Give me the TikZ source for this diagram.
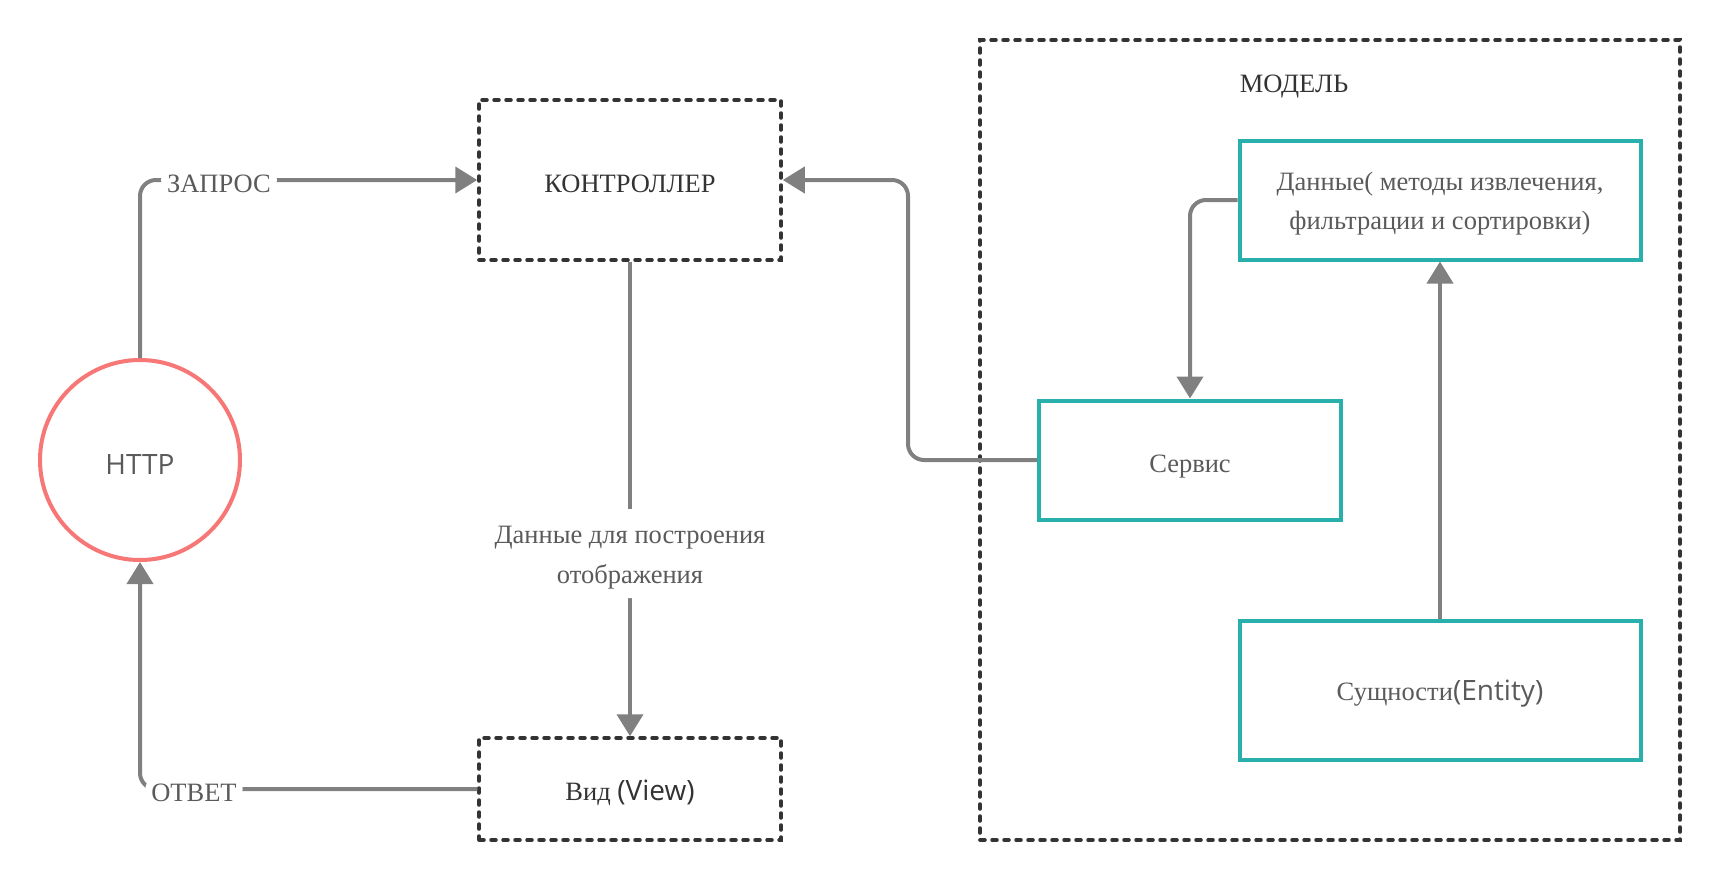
\documentclass[tikz,border=0pt]{standalone}
\usepackage{fontspec}
\setmainfont{Liberation Serif}
\newfontfamily\sansf{Open Sans}
\usetikzlibrary{arrows.meta}
\definecolor{lineg}{HTML}{808080}
\definecolor{dashc}{HTML}{333333}
\definecolor{tealc}{HTML}{2AB0AC}
\definecolor{redc}{HTML}{F77676}
\definecolor{txt}{HTML}{5A5A5A}
\definecolor{darktxt}{HTML}{333333}
\newcommand\dn[2][4pt]{\raisebox{-#1}[\height][\depth]{#2}}
\begin{document}
\begin{tikzpicture}[x=1pt,y=-1pt,
  conn/.style={draw=lineg, line width=4pt, rounded corners=16pt},
  arr/.style={-{Triangle[length=22pt,width=26pt]}},
  dbox/.style={draw=dashc, line width=3.5pt, dash pattern=on 5pt off 7pt, line cap=round,
    minimum width=302pt, text=darktxt, font=\fontsize{26.5pt}{39pt}\selectfont},
  tbox/.style={draw=tealc, line width=4pt, text=txt, align=center,
    font=\fontsize{26.5pt}{39pt}\selectfont},
  lbl/.style={fill=white, text=txt, inner sep=6pt, align=center,
    font=\fontsize{26.5pt}{40pt}\selectfont}
]
\useasboundingbox (0,0) rectangle (1720,881);

% model container
\node[draw=dashc, line width=3.5pt, dash pattern=on 5pt off 7pt, line cap=round,
  minimum width=700pt, minimum height=800pt] (model) at (1330,440) {};
\node[text=darktxt, font=\fontsize{26.5pt}{30pt}\selectfont] (modellbl) at (1294,83) {\dn{МОДЕЛЬ}};

% nodes
\node[circle, draw=redc, line width=4pt, minimum size=200pt, text=txt,
  font=\sansf\fontsize{28pt}{32pt}\selectfont] (http) at (140,460) {\dn{HTTP}};
\node[dbox, minimum height=160pt] (ctrl) at (630,180) {\dn{КОНТРОЛЛЕР}};
\node[dbox, minimum height=102pt] (view) at (630,789) {\dn{Вид {\sansf\fontsize{28pt}{32pt}\selectfont (View)}}};
\node[tbox, minimum width=302pt, minimum height=119pt] (svc) at (1190,460) {\dn[7pt]{Сервис}};
\node[tbox, minimum width=401pt, minimum height=119pt] (data) at (1440,200)
  {\dn{Данные( методы извлечения,}\\ \dn{фильтрации и сортировки)}};
\node[tbox, minimum width=401pt, minimum height=139pt] (ent) at (1440,690)
  {\dn{Сущности{\sansf\fontsize{28pt}{32pt}\selectfont(Entity)}}};

% connectors
\draw[conn,arr] (http.north) |- node[lbl,pos=0.617] {\dn{ЗАПРОС}} (ctrl.west);
\draw[conn,arr] (view.west) -| node[lbl,pos=0.42] {\dn{ОТВЕТ}} (http.south);
\draw[conn,arr] (ctrl.south) -- node[lbl,pos=0.615,inner ysep=13pt]
  {\dn{Данные для построения}\\ \dn{отображения}} (view.north);
\draw[conn,arr] (svc.west) -- ++(-129,0) |- (ctrl.east);
\draw[conn,arr] (data.west) -| (svc.north);
\draw[conn,arr] (ent.north) -- (data.south);
\end{tikzpicture}
\end{document}
